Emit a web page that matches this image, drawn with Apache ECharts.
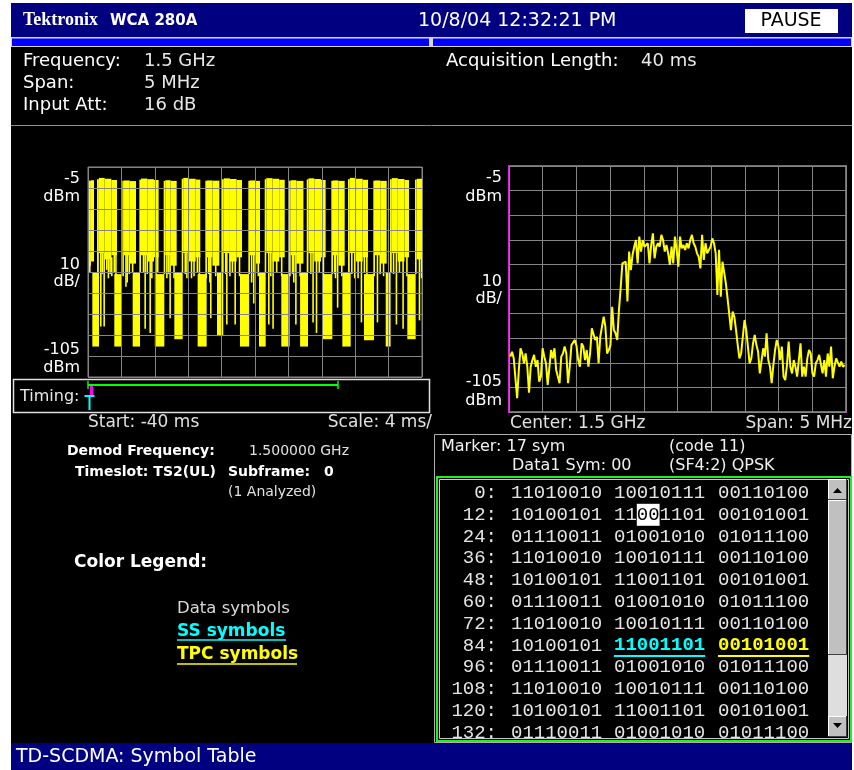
<!DOCTYPE html>
<html>
<head>
<meta charset="utf-8">
<title>TD-SCDMA: Symbol Table</title>
<script src="https://cdn.jsdelivr.net/npm/echarts@6/dist/echarts.min.js"></script>
<style>
  html, body { margin: 0; padding: 0; background: #fff; }
  #screen { width: 854px; height: 770px; }
</style>
</head>
<body>
<div id="screen"></div>
<script>
// reference level at the top of both graticules, dBm (10 dB/div, 10 div)
const refLevel = -5;

// time trace, ms after trace start (display spans -40 .. 0 ms)
// bursts: [from, to, top dBm, floor dBm]
const burstRuns = [
  [0.00, 0.35, -11.5, -52], [0.35, 0.72, -11.3, -50],
  [1.08, 1.30, -10.8, -56], [1.30, 2.00, -10.2, -46], [2.00, 2.80, -10.6, -49], [2.80, 3.47, -11.2, -47],
  [4.11, 4.30, -11.6, -57], [4.30, 5.00, -11.4, -47], [5.00, 5.75, -11.7, -51],
  [6.15, 6.35, -11.0, -55], [6.35, 7.10, -10.5, -47], [7.10, 7.90, -10.8, -50], [7.90, 8.46, -11.2, -48],
  [9.06, 9.25, -11.6, -56], [9.25, 9.90, -11.3, -47], [9.90, 10.62, -11.6, -52],
  [11.22, 11.40, -10.6, -55], [11.40, 12.10, -10.2, -46], [12.10, 12.90, -10.6, -50], [12.90, 13.45, -11.0, -48],
  [14.05, 14.25, -11.6, -58], [14.25, 14.90, -11.4, -48], [14.90, 15.73, -11.5, -52],
  [16.05, 16.25, -10.8, -55], [16.25, 17.00, -10.4, -46], [17.00, 17.80, -10.7, -50], [17.80, 18.44, -11.2, -48],
  [19.20, 19.40, -11.6, -56], [19.40, 20.00, -11.4, -47], [20.00, 20.60, -11.6, -51],
  [21.16, 21.35, -10.8, -55], [21.35, 22.10, -10.3, -46], [22.10, 22.90, -10.6, -50], [22.90, 23.56, -11.1, -48],
  [24.08, 24.28, -11.5, -57], [24.28, 24.95, -11.3, -47], [24.95, 25.80, -11.6, -51],
  [26.19, 26.40, -10.9, -55], [26.40, 27.10, -10.4, -46], [27.10, 27.90, -10.7, -50], [27.90, 28.46, -11.2, -48],
  [29.14, 29.34, -11.6, -56], [29.34, 30.00, -11.4, -47], [30.00, 30.74, -11.6, -52],
  [31.14, 31.35, -10.8, -55], [31.35, 32.10, -10.2, -46], [32.10, 32.90, -10.6, -50], [32.90, 33.53, -11.1, -48],
  [34.17, 34.37, -11.6, -57], [34.37, 35.00, -11.4, -47], [35.00, 35.77, -11.6, -51],
  [36.17, 36.38, -10.8, -55], [36.38, 37.10, -10.3, -46], [37.10, 37.90, -10.7, -50], [37.90, 38.44, -11.2, -48],
  [39.16, 39.36, -11.0, -56], [39.36, 40.00, -10.6, -49],
];
// slot edges dropping to the noise floor: [from, to, top dBm, floor dBm]
const gapRuns = [
  [0.52, 1.32, -55, -90.5], [3.15, 3.95, -56, -90.5], [5.35, 6.23, -55, -90.5], [8.00, 9.14, -56, -90.5],
  [10.34, 11.34, -55, -87.0], [13.13, 14.21, -56, -90.5], [15.45, 16.20, -55, -85.5], [18.20, 19.30, -56, -90.5],
  [20.48, 21.28, -55, -90.5], [23.15, 24.15, -56, -90.5], [25.40, 26.35, -55, -90.5], [28.06, 29.26, -56, -87.0],
  [30.46, 31.46, -55, -90.5], [33.05, 34.25, -56, -87.5], [35.65, 36.24, -55, -90.5], [38.24, 39.24, -56, -87.0],
];
// single-sample dips inside bursts: [at, top dBm, floor dBm]
const spikes = [
  [0.12, -46, -55],
  [1.44, -46, -81], [1.62, -46, -56], [1.84, -46, -81], [2.15, -46, -54], [2.35, -48, -58], [2.55, -46, -56],
  [2.75, -48, -57], [3.05, -46, -55], [3.25, -46, -58],
  [4.45, -46, -62], [4.60, -46, -60], [4.85, -46, -56], [5.25, -46, -55],
  [6.55, -46, -55], [6.75, -46, -82], [7.00, -46, -56], [7.35, -48, -84], [7.55, -48, -58], [8.05, -46, -57],
  [8.25, -46, -55],
  [9.35, -46, -58], [9.55, -46, -56], [9.74, -46, -77], [10.20, -46, -58],
  [11.55, -46, -56], [11.75, -46, -58], [12.30, -46, -58], [12.60, -46, -57], [13.00, -46, -55], [13.25, -46, -58],
  [14.35, -46, -56], [14.50, -46, -60], [14.61, -46, -77], [15.20, -46, -57],
  [16.40, -46, -56], [16.53, -46, -80], [16.90, -46, -57], [17.20, -46, -55], [17.53, -48, -80], [18.05, -46, -57],
  [19.50, -46, -60], [19.75, -46, -70], [19.95, -46, -55], [20.30, -46, -57],
  [21.56, -46, -80], [21.80, -46, -57], [22.07, -46, -82], [22.50, -46, -55], [23.10, -46, -57],
  [24.40, -46, -56], [24.55, -46, -60], [24.80, -46, -80], [25.30, -46, -57],
  [26.60, -46, -56], [26.86, -46, -79], [27.27, -48, -84], [27.60, -46, -55], [28.10, -46, -57],
  [29.45, -46, -56], [29.55, -46, -58], [29.80, -46, -72], [30.30, -46, -57],
  [31.50, -46, -56], [31.85, -46, -58], [32.25, -46, -58], [32.65, -48, -79], [33.00, -46, -55], [33.30, -46, -57],
  [34.57, -46, -79], [34.90, -46, -56], [35.30, -46, -57],
  [36.50, -46, -56], [36.84, -46, -80], [37.20, -46, -55], [37.64, -48, -82], [38.10, -46, -57],
  [39.60, -46, -78], [39.85, -46, -58],
];

// spectrum, dBm, evenly spaced across the 5 MHz span (offset from 1.5 GHz)
const spectrumFrom = -2.48;
const spectrumTo = 2.48;
const spectrumDbm = [
  -82.5, -80.5, -83.2, -83.9, -99.4, -87.9, -79.1, -81.2, -85.2, -81.2,
  -86.6, -97.1, -86.6, -83.9, -81.8, -86.6, -83.9, -92.7, -90.6, -79.1,
  -82.5, -85.2, -94.0, -94.0, -79.8, -83.2, -79.1, -87.9, -87.3, -93.3,
  -82.5, -81.2, -78.4, -81.2, -93.3, -86.6, -77.8, -78.2, -75.7, -78.2,
  -83.9, -86.6, -77.1, -78.4, -83.9, -79.8, -86.6, -81.2, -71.0, -71.7,
  -75.7, -74.4, -85.2, -74.4, -70.3, -66.2, -70.3, -81.2, -79.8, -77.8,
  -62.2, -71.7, -73.0, -75.7, -63.5, -54.7, -44.6, -43.9, -43.9, -60.1,
  -39.8, -47.3, -41.2, -37.8, -35.1, -44.6, -33.7, -39.8, -35.1, -37.8,
  -38.5, -36.4, -44.6, -37.1, -32.4, -42.5, -37.8, -36.4, -37.8, -33.0,
  -35.1, -39.8, -37.1, -40.5, -45.2, -37.8,
  -44.6, -33.7, -39.1, -45.9, -33.7, -38.5, -37.1, -39.1, -36.4, -38.5,
  -35.1, -33.0, -36.4, -37.8, -40.5, -41.9, -46.6, -33.0, -43.2, -36.4,
  -40.5, -39.8, -37.8, -34.4, -36.4, -40.5, -57.4, -39.1, -58.1, -43.9,
  -44.6, -52.7, -58.8, -58.1, -71.7, -64.2, -66.2, -71.7, -77.8, -83.2,
  -81.2, -80.5, -67.6, -71.7, -78.4, -85.2, -83.2, -77.1, -73.7, -77.8,
  -80.5, -89.3, -89.3, -79.1, -82.5, -73.0, -83.9, -86.6, -93.3, -85.9,
  -79.8, -75.7, -78.4, -83.9, -78.4, -90.6, -92.0, -85.9, -76.4, -86.6,
  -89.3, -83.9, -86.6, -90.6, -83.9, -77.1, -90.6, -86.6, -90.6, -83.2,
  -79.8, -81.2, -89.3, -90.6, -85.2, -83.9, -81.8, -82.5, -89.3, -83.9,
  -90.6, -81.2, -86.6, -78.4, -91.3, -86.6, -83.2, -82.5, -86.6, -84.5,
  -86.6, -85.9,
];

// symbol table
const rowOffsets = [0, 12, 24, 36, 48, 60, 72, 84, 96, 108, 120, 132];
const symbolRows = [
  ['11010010', '10010111', '00110100'],
  ['10100101', '11001101', '00101001'],
  ['01110011', '01001010', '01011100'],
  ['11010010', '10010111', '00110100'],
  ['10100101', '11001101', '00101001'],
  ['01110011', '01001010', '01011100'],
  ['11010010', '10010111', '00110100'],
  ['10100101', '11001101', '00101001'],
  ['01110011', '01001010', '01011100'],
  ['11010010', '10010111', '00110100'],
  ['10100101', '11001101', '00101001'],
  ['01110011', '01001010', '01011100'],
];
const ssCell = [84, 1];
const tpcCell = [84, 2];
const markerCell = [12, 1, 2, 2]; // row, column, first char, char count

const YELLOW = '#ffff00';
const CYAN = '#00ffff';
const FONT = '"DejaVu Sans", sans-serif';
const MONO = '"Liberation Mono", monospace';

const label = (x, y, text, size, opts = {}) => ({
  type: 'text', x, y, silent: true, z: opts.z || 10,
  style: {
    text,
    fill: opts.color || '#ffffff',
    font: `${opts.bold ? 'bold ' : ''}${size}px ${opts.family || FONT}`,
    textAlign: opts.align || 'left',
    textVerticalAlign: 'middle',
  },
});
const box = (x, y, w, h, style, z = 5) => ({
  type: 'rect', silent: true, z, shape: { x, y, width: w, height: h }, style,
});
const seg = (x1, y1, x2, y2, color, width = 1, z = 6) => ({
  type: 'line', silent: true, z, shape: { x1, y1, x2, y2 }, style: { stroke: color, lineWidth: width },
});

const buildChrome = () => {
  const g = [];
  // margins around the instrument screen
  g.push(box(0, 0, 11, 770, { fill: '#fff' }), box(0, 0, 854, 3, { fill: '#fff' }), box(852, 0, 2, 770, { fill: '#fff' }));

  // title bar
  g.push(box(11, 3, 841, 34, { fill: '#000080' }));
  g.push(label(23, 20, 'Tektronix', 18, { bold: true, family: '"Liberation Serif", serif' }));
  g.push(label(110, 21, 'WCA 280A', 15, { bold: true }));
  g.push(label(418, 21, '10/8/04 12:32:21 PM', 19));
  g.push(box(745, 9, 93, 24, { fill: '#ffffff' }));
  g.push(label(791, 21, 'PAUSE', 19, { color: '#000000', align: 'center' }));
  g.push(box(11, 37, 841, 10, { fill: '#d4d4e4' }));
  g.push(box(12, 38.5, 417, 7.5, { fill: '#0000ff' }), box(433, 38.5, 418, 7.5, { fill: '#0000ff' }));

  // setup readout
  g.push(label(23, 61, 'Frequency:', 18), label(144, 61, '1.5 GHz', 18, { color: '#e8e8e8' }));
  g.push(label(23, 83, 'Span:', 18), label(144, 83, '5 MHz', 18, { color: '#e8e8e8' }));
  g.push(label(23, 105, 'Input Att:', 18), label(144, 105, '16 dB', 18, { color: '#e8e8e8' }));
  g.push(label(446, 61, 'Acquisition Length:', 18), label(641, 61, '40 ms', 18, { color: '#e8e8e8' }));
  g.push(seg(11, 125.5, 852, 125.5, '#8c8c8c', 1));

  // time view annotations
  g.push(label(80, 179, '-5', 16, { align: 'right' }), label(80, 197, 'dBm', 16, { align: 'right' }));
  g.push(label(80, 265, '10', 16, { align: 'right' }), label(80, 282, 'dB/', 16, { align: 'right' }));
  g.push(label(80, 350, '-105', 16, { align: 'right' }), label(80, 368, 'dBm', 16, { align: 'right' }));
  g.push(box(13.5, 379.5, 416, 33, { fill: 'none', stroke: '#e0e0e0', lineWidth: 1.5 }));
  g.push(label(20, 397, 'Timing:', 16, { color: '#e8e8e8' }));
  g.push(seg(88, 385, 338, 385, '#00ff00', 2), seg(88, 381, 88, 389, '#00ff00', 1.5), seg(338, 381, 338, 389, '#00ff00', 1.5));
  g.push(box(90, 386, 3, 9, { fill: '#ff00ff' }));
  g.push(seg(84.5, 396, 94.5, 396, CYAN, 2), seg(89.5, 396, 89.5, 410, CYAN, 2));
  g.push(label(88, 423, 'Start: -40 ms', 17, { color: '#e0e0e0' }));
  g.push(label(432, 423, 'Scale: 4 ms/', 17, { color: '#e0e0e0', align: 'right' }));

  // spectrum annotations
  g.push(label(502, 178, '-5', 16, { align: 'right' }), label(502, 197, 'dBm', 16, { align: 'right' }));
  g.push(label(502, 282, '10', 16, { align: 'right' }), label(502, 299, 'dB/', 16, { align: 'right' }));
  g.push(label(502, 382, '-105', 16, { align: 'right' }), label(502, 401, 'dBm', 16, { align: 'right' }));
  g.push(label(510, 424, 'Center: 1.5 GHz', 17, { color: '#e0e0e0' }));
  g.push(label(852, 424, 'Span: 5 MHz', 17, { color: '#e0e0e0', align: 'right' }));

  // demod summary and colour legend
  g.push(label(67, 451, 'Demod Frequency:', 14, { bold: true }), label(249, 451, '1.500000 GHz', 14, { color: '#e0e0e0' }));
  g.push(label(75, 472, 'Timeslot: TS2(UL)', 14, { bold: true }), label(228, 472, 'Subframe:', 14, { bold: true }));
  g.push(label(324, 472, '0', 14, { bold: true }), label(228, 492, '(1 Analyzed)', 14, { color: '#e0e0e0' }));
  g.push(label(74, 563, 'Color Legend:', 17, { bold: true }));
  g.push(label(177, 609, 'Data symbols', 16.5, { color: '#d8d8d8' }));
  g.push(label(177, 632, 'SS symbols', 17, { bold: true, color: CYAN }), seg(177, 640, 286, 640, CYAN, 1.5));
  g.push(label(177, 655, 'TPC symbols', 17, { bold: true, color: YELLOW }), seg(177, 664, 297, 664, YELLOW, 1.5));

  // marker readout
  g.push(box(434.5, 434.5, 417, 308, { fill: 'none', stroke: '#b0b0b0', lineWidth: 1 }));
  g.push(label(441, 447, 'Marker: 17 sym', 16, { color: '#f0f0f0' }), label(669, 447, '(code 11)', 16, { color: '#f0f0f0' }));
  g.push(label(512, 466, 'Data1 Sym: 00', 16, { color: '#f0f0f0' }), label(669, 466, '(SF4:2) QPSK', 16, { color: '#f0f0f0' }));

  // symbol table
  const rowY0 = 493, rowStep = 21.8, charW = 11.4;
  const colX = [511, 614, 718];
  rowOffsets.forEach((off, i) => {
    const y = rowY0 + i * rowStep;
    g.push(label(497, y, off + ':', 19, { family: MONO, align: 'right', color: '#e4e4e4' }));
    symbolRows[i].forEach((word, c) => {
      let color = '#e4e4e4', bold = false;
      if (off === ssCell[0] && c === ssCell[1]) { color = CYAN; bold = true; }
      if (off === tpcCell[0] && c === tpcCell[1]) { color = YELLOW; bold = true; }
      g.push(label(colX[c], y, word, 19, { family: MONO, color, bold }));
      if (bold) g.push(seg(colX[c], y + 10.5, colX[c] + word.length * charW, y + 10.5, color, 2));
      if (off === markerCell[0] && c === markerCell[1]) {
        const mx = colX[c] + markerCell[2] * charW;
        g.push(box(mx, y - 11, markerCell[3] * charW, 22, { fill: '#ffffff' }, 11));
        g.push(label(mx, y, word.substr(markerCell[2], markerCell[3]), 19, { family: MONO, color: '#000000', z: 12 }));
      }
    });
  });
  g.push(box(438, 738.5, 390, 3, { fill: '#000000' }, 13));
  g.push(box(437, 477, 414, 264, { fill: 'none', stroke: '#20f020', lineWidth: 2 }, 14));
  g.push(box(439.5, 479.5, 409, 259, { fill: 'none', stroke: '#c8c8c8', lineWidth: 1 }, 14));

  // scrollbar
  const bevel = (x, y, w, h) => [
    box(x, y, w, h, { fill: '#c0c0c0' }, 15),
    seg(x, y + 0.5, x + w, y + 0.5, '#ffffff', 1, 16), seg(x + 0.5, y, x + 0.5, y + h, '#ffffff', 1, 16),
    seg(x, y + h - 0.5, x + w, y + h - 0.5, '#404040', 1, 16), seg(x + w - 0.5, y, x + w - 0.5, y + h, '#404040', 1, 16),
  ];
  g.push(box(828, 479, 19, 258, { fill: '#dedede' }, 14));
  g.push(...bevel(828, 479, 19, 21), ...bevel(828, 500, 19, 155), ...bevel(828, 716, 19, 21));
  g.push({ type: 'polygon', silent: true, z: 17, shape: { points: [[833, 493], [842, 493], [837.5, 488]] }, style: { fill: '#000' } });
  g.push({ type: 'polygon', silent: true, z: 17, shape: { points: [[833, 723], [842, 723], [837.5, 728]] }, style: { fill: '#000' } });

  // status bar
  g.push(box(11, 743, 841, 27, { fill: '#000080' }, 18));
  g.push(label(16, 757, 'TD-SCDMA: Symbol Table', 19, { z: 19 }));
  return g;
};

const renderRun = (params, api) => {
  const p0 = api.coord([api.value(0), api.value(2)]);
  const p1 = api.coord([api.value(1), api.value(3)]);
  return {
    type: 'rect',
    shape: { x: p0[0], y: p0[1], width: Math.max(p1[0] - p0[0], 1), height: p1[1] - p0[1] },
    style: { fill: YELLOW },
  };
};
const renderSpike = (params, api) => {
  const p0 = api.coord([api.value(0), api.value(1)]);
  const p1 = api.coord([api.value(0), api.value(2)]);
  return {
    type: 'rect',
    shape: { x: p0[0], y: p0[1], width: 1.6, height: p1[1] - p0[1] },
    style: { fill: YELLOW },
  };
};

const hiddenAxis = (gridIndex, min, max, interval, z) => ({
  type: 'value', gridIndex, min, max, interval, z,
  axisLine: { show: false }, axisTick: { show: false }, axisLabel: { show: false },
  splitLine: { show: true, lineStyle: { color: '#858585', width: 1 } },
});

const buildOption = () => {
  const rel = (dbm) => dbm - refLevel;
  const step = (spectrumTo - spectrumFrom) / (spectrumDbm.length - 1);
  return {
    backgroundColor: '#000000',
    animation: false,
    grid: [
      { left: 88, top: 167, width: 334, height: 210, show: true, borderColor: '#858585', borderWidth: 1 },
      { left: 509, top: 166, width: 337, height: 246, show: true, borderColor: '#e020e0', borderWidth: 2 },
    ],
    xAxis: [hiddenAxis(0, 0, 40, 4, 4), hiddenAxis(1, -2.5, 2.5, 0.5, 0)],
    yAxis: [hiddenAxis(0, -100, 0, 10, 4), hiddenAxis(1, -100, 0, 10, 0)],
    series: [
      {
        type: 'custom', name: 'bursts', xAxisIndex: 0, yAxisIndex: 0, z: 1, clip: true,
        renderItem: renderRun,
        data: burstRuns.map((r) => [r[0], r[1], rel(r[2]), rel(r[3])]),
      },
      {
        type: 'custom', name: 'gaps', xAxisIndex: 0, yAxisIndex: 0, z: 1, clip: true,
        renderItem: renderRun,
        data: gapRuns.map((r) => [r[0], r[1], rel(r[2]), rel(r[3])]),
      },
      {
        type: 'custom', name: 'spikes', xAxisIndex: 0, yAxisIndex: 0, z: 1, clip: true,
        renderItem: renderSpike,
        data: spikes.map((s) => [s[0], rel(s[1]), rel(s[2])]),
      },
      {
        type: 'line', name: 'spectrum', xAxisIndex: 1, yAxisIndex: 1, z: 3,
        symbol: 'none', clip: true,
        lineStyle: { color: YELLOW, width: 2 },
        data: spectrumDbm.map((v, i) => [spectrumFrom + i * step, rel(v)]),
      },
    ],
    graphic: buildChrome(),
  };
};

const chart = echarts.init(document.getElementById('screen'));
chart.setOption(buildOption());
</script>
</body>
</html>
